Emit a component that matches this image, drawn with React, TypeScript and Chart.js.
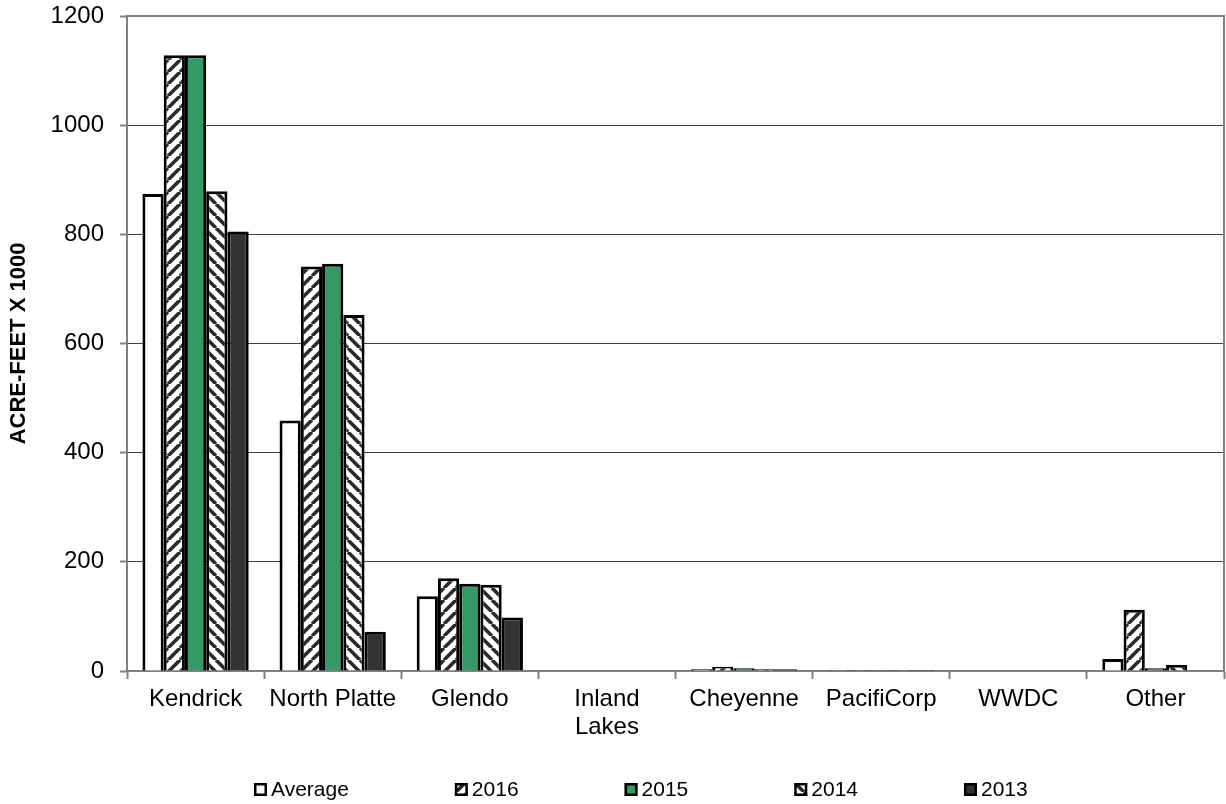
import React, { useEffect, useRef } from "react";
import { Chart, registerables } from "chart.js";

Chart.register(...registerables);

const categories: (string | string[])[] = [
  "Kendrick",
  "North Platte",
  "Glendo",
  ["Inland", "Lakes"],
  "Cheyenne",
  "PacifiCorp",
  "WWDC",
  "Other",
];
const seriesLabels = ["Average", "2016", "2015", "2014", "2013"];
const averageValues = [874, 459, 137, 0, 3, 2, 0, 22];
const values2016 = [1128, 741, 170, 0, 8, 2, 0, 112];
const values2015 = [1128, 746, 160, 0, 5, 2, 0, 5];
const values2014 = [879, 652, 158, 0, 3, 2, 0, 11];
const values2013 = [805, 72, 98, 0, 3, 2, 0, 0];
const yTickValues = [0, 200, 400, 600, 800, 1000, 1200];
const yAxisTitle = "ACRE-FEET X 1000";

const FONT = "'Liberation Sans', Arial, sans-serif";

function makeHatch(dir: 1 | -1): CanvasPattern | string {
  const s = 12;
  const c = document.createElement("canvas");
  c.width = s;
  c.height = s;
  const ctx = c.getContext("2d");
  if (!ctx) return "#fff";
  ctx.fillStyle = "#ffffff";
  ctx.fillRect(0, 0, s, s);
  ctx.strokeStyle = "#2a2a2a";
  ctx.lineWidth = 3.6;
  ctx.beginPath();
  for (let k = -1; k <= 1; k++) {
    if (dir === 1) {
      ctx.moveTo(k * s, s);
      ctx.lineTo(k * s + s, 0);
    } else {
      ctx.moveTo(k * s, 0);
      ctx.lineTo(k * s + s, s);
    }
  }
  ctx.stroke();
  const p = ctx.createPattern(c, "repeat");
  return p || "#fff";
}

export default function App() {
  const ref = useRef<HTMLCanvasElement | null>(null);

  useEffect(() => {
    if (!ref.current) return;
    const hatchUp = makeHatch(1);
    const hatchDown = makeHatch(-1);
    const fills: any[] = ["#ffffff", hatchUp, "#339966", hatchDown, "#333333"];
    const seriesValues = [averageValues, values2016, values2015, values2014, values2013];

    const plotFrame = {
      id: "plotFrame",
      afterDraw(chart: any) {
        const { ctx, chartArea } = chart;
        ctx.save();
        ctx.strokeStyle = "#808080";
        ctx.lineWidth = 2;
        ctx.beginPath();
        ctx.moveTo(chartArea.left, chartArea.top);
        ctx.lineTo(chartArea.right, chartArea.top);
        ctx.lineTo(chartArea.right, chartArea.bottom);
        ctx.stroke();
        ctx.restore();
      },
    };

    const bottomLegend = {
      id: "bottomLegend",
      afterDraw(chart: any) {
        const { ctx } = chart;
        ctx.save();
        ctx.font = `21px ${FONT}`;
        ctx.textBaseline = "middle";
        ctx.textAlign = "left";
        const box = 13;
        const gap = 4;
        const spacing = 106;
        const items = chart.data.datasets.map((d: any) => ({
          label: d.label,
          fill: d.backgroundColor,
          w: box + gap + ctx.measureText(d.label).width,
        }));
        const total =
          items.reduce((a: number, it: any) => a + it.w, 0) + spacing * (items.length - 1);
        let x = Math.round(641 - total / 2);
        const cy = 789.5;
        items.forEach((it: any) => {
          ctx.fillStyle = it.fill;
          ctx.fillRect(x, cy - box / 2, box, box);
          ctx.strokeStyle = "#000";
          ctx.lineWidth = 2.5;
          ctx.strokeRect(x + 1.25, cy - box / 2 + 1.25, box - 2.5, box - 2.5);
          ctx.fillStyle = "#000";
          ctx.fillText(it.label, x + box + gap, cy + 1);
          x += it.w + spacing;
        });
        ctx.restore();
      },
    };

    const chart = new Chart(ref.current, {
      type: "bar",
      data: {
        labels: categories as any,
        datasets: seriesLabels.map((label, i) => ({
          label,
          data: seriesValues[i],
          backgroundColor: fills[i],
          borderColor: "#000000",
          borderWidth: 3,
          borderSkipped: "bottom",
          categoryPercentage: 0.775,
          barPercentage: 1.0,
        })),
      },
      options: {
        animation: false,
        responsive: false,
        maintainAspectRatio: false,
        devicePixelRatio: 1,
        layout: { padding: { top: 16, right: 2, left: 0, bottom: 0 } },
        plugins: {
          legend: { display: false },
          tooltip: { enabled: false },
          title: { display: false },
        },
        scales: {
          x: {
            offset: true,
            grid: {
              display: true,
              offset: true,
              drawOnChartArea: false,
              drawTicks: true,
              tickLength: 8,
              tickColor: "#808080",
              tickWidth: 2,
              color: "#808080",
            },
            border: { display: true, color: "#808080", width: 2 },
            ticks: {
              color: "#000",
              font: { family: FONT, size: 24, lineHeight: 1.15 },
              padding: 7,
              maxRotation: 0,
              autoSkip: false,
            },
            afterFit(scale: any) {
              scale.height = 133;
              scale.paddingLeft = 0;
              scale.paddingRight = 0;
            },
          },
          y: {
            min: 0,
            max: 1200,
            afterBuildTicks(scale: any) {
              scale.ticks = yTickValues.map((v) => ({ value: v }));
            },
            grid: {
              color: "#404040",
              lineWidth: 1,
              tickLength: 7,
              tickColor: "#808080",
              tickWidth: 2,
            },
            border: { display: true, color: "#808080", width: 2 },
            ticks: {
              color: "#000",
              font: { family: FONT, size: 24 },
              padding: 16,
              callback: (v: any) => String(v),
            },
            title: {
              display: true,
              text: yAxisTitle,
              color: "#000",
              font: { family: FONT, size: 22, weight: "bold" },
              padding: { top: 6, bottom: 0 },
            },
            afterFit(scale: any) {
              scale.width = 127;
              scale.paddingTop = 0;
              scale.paddingBottom = 0;
            },
          },
        },
      },
      plugins: [plotFrame, bottomLegend],
    } as any);

    return () => {
      chart.destroy();
    };
  }, []);

  return (
    <div style={{ position: "absolute", left: 0, top: 0, width: 1226, height: 804, background: "#fff" }}>
      <canvas ref={ref} width={1226} height={804} style={{ display: "block", width: 1226, height: 804 }} />
    </div>
  );
}
